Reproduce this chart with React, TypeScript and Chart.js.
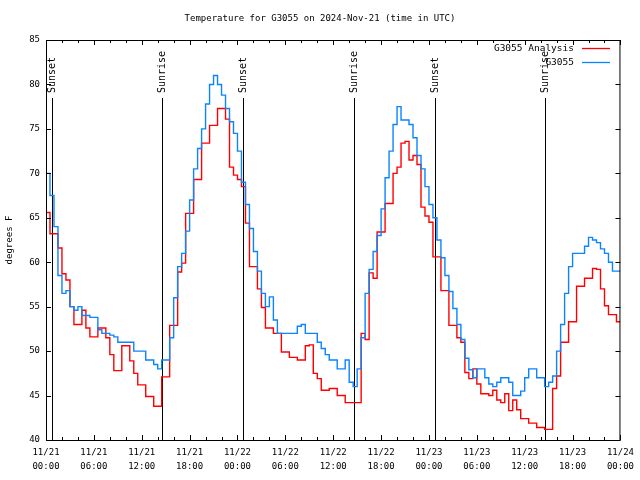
import React, { useEffect, useRef } from 'react';
import { Chart, registerables } from 'chart.js';

Chart.register(...registerables);

const TITLE = 'Temperature for G3055 on 2024-Nov-21 (time in UTC)';
const Y_LABEL = 'degrees F';
const ANALYSIS_NAME = 'G3055 Analysis';
const STATION_NAME = 'G3055';

// hours since 2024-11-21 00:00 UTC; readings every half hour
const START_HOUR = 0;
const STEP_HOURS = 0.5;

const analysisTemps = [
  65.6, 63.2, 63.2, 61.6, 58.7, 58, 55, 53, 53, 54.6, 52.6, 51.6,
  51.6, 52.6, 52.6, 51.5, 49.6, 47.8, 47.8, 50.6, 50.6, 48.9, 47.5, 46.2,
  46.2, 44.9, 44.9, 43.8, 43.8, 47.1, 47.1, 52.9, 52.9, 58.9, 59.9, 65.5,
  65.5, 69.3, 69.3, 73.4, 73.4, 75.4, 75.4, 77.3, 77.3, 76.1, 70.7, 69.8,
  69.3, 68.5, 64.4, 59.5, 59.5, 57, 54.9, 52.6, 52.6, 52, 52, 49.9,
  49.9, 49.3, 49.3, 49, 49, 50.6, 50.7, 47.5, 46.9, 45.6, 45.6, 45.8,
  45.8, 45, 45, 44.2, 44.2, 44.2, 44.2, 52, 51.3, 58.8, 58.2, 63.4,
  63.4, 66.6, 66.6, 70, 70.7, 73.4, 73.6, 71.5, 72, 71, 66.2, 65.2,
  64.5, 60.6, 60.6, 56.8, 56.8, 52.9, 52.9, 51.5, 51, 47.6, 46.9, 48,
  46.3, 45.2, 45.2, 45, 45.6, 44.5, 44.2, 45.2, 43.3, 44.5, 43.4, 42.4,
  42.4, 41.9, 41.9, 41.4, 41.4, 41.2, 41.2, 45.8, 47.2, 51, 51, 53.3,
  53.3, 57.3, 57.3, 58.2, 58.2, 59.3, 59.2, 57, 55.1, 54.1, 54.1, 53.3,
  53.3,
];

const stationTemps = [
  70, 67.5, 64, 58.5, 56.5, 56.8, 55, 54.6, 55, 54, 54, 53.8,
  53.8, 52.4, 52, 52, 51.8, 51.6, 51, 51, 51, 51, 50, 50,
  50, 49, 49, 48.5, 48, 49, 49, 51.5, 56, 59.5, 61, 63.5,
  67, 70.5, 72.8, 75, 77.8, 80, 81, 80, 78.8, 77.3, 75.8, 74.5,
  72.5, 69, 66.5, 63.8, 61.2, 59, 56.5, 55, 56.1, 53.5, 52, 52,
  52, 52, 52, 52.8, 53, 52, 52, 52, 51, 50.3, 49.6, 49,
  49, 48, 48, 49, 46.5, 46, 48, 51.5, 56.5, 59.2, 61.2, 63,
  66, 69.5, 72.5, 75.5, 77.5, 76, 76, 75.5, 74, 72, 70.5, 68.5,
  66.5, 65, 62.5, 60.5, 58.5, 56.7, 54.8, 53, 51.3, 49.2, 47.9, 47,
  48, 48, 47, 46.3, 46, 46.5, 47, 47, 46.5, 45, 45, 45.5,
  47, 48, 48, 47, 47, 46, 46.5, 47.2, 50, 53, 56.5, 59.5,
  61, 61, 61, 61.8, 62.8, 62.5, 62.2, 61.5, 61, 60, 59, 59,
  59,
];

const sunsetHours = [0.7, 24.68, 48.7];
const sunriseHours = [14.52, 38.55, 62.6];

const tickDates = ['11/21', '11/21', '11/21', '11/21', '11/22', '11/22', '11/22', '11/22', '11/23', '11/23', '11/23', '11/23', '11/24'];
const tickTimes = ['00:00', '06:00', '12:00', '18:00', '00:00', '06:00', '12:00', '18:00', '00:00', '06:00', '12:00', '18:00', '00:00'];

const X_MIN = 0;
const X_MAX = 72;
const X_MAJOR = 6;
const X_MINOR = 2;
const Y_MIN = 40;
const Y_MAX = 85;
const Y_STEP = 5;

const FONT = "'DejaVu Sans Mono', 'Liberation Mono', monospace";
const RED = '#ff0000';
const BLUE = '#0a84ff';

export default function App() {
  const ref = useRef<HTMLCanvasElement>(null);

  useEffect(() => {
    const canvas = ref.current;
    if (!canvas) return;
    const times = analysisTemps.map((_, i) => START_HOUR + i * STEP_HOURS);

    const overlay = {
      id: 'gnuplotOverlay',
      beforeDatasetsDraw(chart: any) {
        const { ctx, chartArea } = chart;
        const xs = chart.scales.x;
        ctx.save();
        ctx.strokeStyle = '#000';
        ctx.lineWidth = 1;
        ctx.fillStyle = '#000';
        ctx.font = `10px ${FONT}`;
        const draw = (h: number, label: string) => {
          const x = Math.round(xs.getPixelForValue(h)) + 0.5;
          ctx.beginPath();
          ctx.moveTo(x, 98);
          ctx.lineTo(x, chartArea.bottom);
          ctx.stroke();
          ctx.save();
          ctx.translate(x, 93);
          ctx.rotate(-Math.PI / 2);
          ctx.textAlign = 'left';
          ctx.textBaseline = 'middle';
          ctx.fillText(label, 0, 0);
          ctx.restore();
        };
        sunsetHours.forEach((h) => draw(h, 'Sunset'));
        sunriseHours.forEach((h) => draw(h, 'Sunrise'));
        ctx.restore();
      },
      afterDraw(chart: any) {
        const { ctx, chartArea } = chart;
        const xs = chart.scales.x;
        const ys = chart.scales.y;
        const { left, right, top, bottom } = chartArea;
        ctx.save();
        ctx.strokeStyle = '#000';
        ctx.lineWidth = 1;
        ctx.strokeRect(left + 0.5, top + 0.5, right - left - 1, bottom - top);
        ctx.beginPath();
        for (let h = X_MIN; h <= X_MAX; h += X_MINOR) {
          const len = h % X_MAJOR === 0 ? 5 : 3;
          const x = Math.round(xs.getPixelForValue(h)) + 0.5;
          ctx.moveTo(x, bottom);
          ctx.lineTo(x, bottom - len);
          ctx.moveTo(x, top);
          ctx.lineTo(x, top + len);
        }
        for (let v = Y_MIN; v <= Y_MAX; v += Y_STEP) {
          const y = Math.round(ys.getPixelForValue(v)) + 0.5;
          ctx.moveTo(left, y);
          ctx.lineTo(left + 5, y);
          ctx.moveTo(right, y);
          ctx.lineTo(right - 5, y);
        }
        ctx.stroke();
        ctx.fillStyle = '#000';
        ctx.font = `9px ${FONT}`;
        ctx.textAlign = 'center';
        ctx.textBaseline = 'middle';
        ctx.fillText(TITLE, 320, 19);
        ctx.save();
        ctx.translate(10, 240);
        ctx.rotate(-Math.PI / 2);
        ctx.fillText(Y_LABEL, 0, 0);
        ctx.restore();
        ctx.font = `9.5px ${FONT}`;
        ctx.textAlign = 'right';
        ctx.fillText(ANALYSIS_NAME, 574, 49);
        ctx.fillText(STATION_NAME, 574, 63);
        ctx.lineWidth = 1.3;
        ctx.strokeStyle = RED;
        ctx.beginPath();
        ctx.moveTo(582, 48.5);
        ctx.lineTo(610, 48.5);
        ctx.stroke();
        ctx.strokeStyle = BLUE;
        ctx.beginPath();
        ctx.moveTo(582, 62.5);
        ctx.lineTo(610, 62.5);
        ctx.stroke();
        ctx.restore();
      },
    };

    const chart = new Chart(canvas, {
      type: 'line',
      data: {
        datasets: [
          {
            label: ANALYSIS_NAME,
            data: times.map((t, i) => ({ x: t, y: analysisTemps[i] })),
            borderColor: RED,
            borderWidth: 1.4,
            pointRadius: 0,
            stepped: 'before',
            fill: false,
            order: 1,
          },
          {
            label: STATION_NAME,
            data: times.map((t, i) => ({ x: t, y: stationTemps[i] })),
            borderColor: BLUE,
            borderWidth: 1.4,
            pointRadius: 0,
            stepped: 'before',
            fill: false,
            order: 0,
          },
        ],
      },
      options: {
        responsive: false,
        animation: false,
        devicePixelRatio: 1,
        layout: { padding: { top: 40, right: 19, left: 0, bottom: 0 } },
        plugins: {
          legend: { display: false },
          title: { display: false },
          tooltip: { enabled: false },
        },
        scales: {
          x: {
            type: 'linear',
            min: X_MIN,
            max: X_MAX,
            border: { display: false },
            grid: { display: false, drawTicks: false },
            ticks: {
              stepSize: X_MAJOR,
              autoSkip: false,
              maxRotation: 0,
              padding: 6,
              color: '#000',
              font: { family: FONT, size: 9, lineHeight: 1.55 },
              callback: (v: any) => {
                const i = Math.round(Number(v) / X_MAJOR);
                return [tickDates[i], tickTimes[i]];
              },
            },
            afterFit: (s: any) => {
              s.height = 40;
            },
          },
          y: {
            min: Y_MIN,
            max: Y_MAX,
            border: { display: false },
            grid: { display: false, drawTicks: false },
            ticks: {
              stepSize: Y_STEP,
              padding: 6,
              color: '#000',
              font: { family: FONT, size: 9 },
            },
            afterFit: (s: any) => {
              s.width = 46;
            },
          },
        },
      },
      plugins: [overlay],
    } as any);

    return () => chart.destroy();
  }, []);

  return (
    <div style={{ position: 'fixed', left: 0, top: 0, width: 640, height: 480, background: '#fff' }}>
      <canvas ref={ref} width={640} height={480} style={{ display: 'block' }} />
    </div>
  );
}
